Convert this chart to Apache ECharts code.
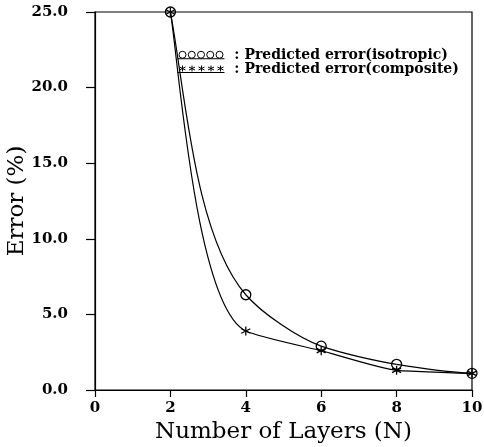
<!DOCTYPE html>
<html>
<head>
<meta charset="utf-8">
<script src="https://cdn.jsdelivr.net/npm/echarts@6/dist/echarts.min.js"></script>
<style>
  html, body { margin: 0; padding: 0; background: #fff; }
  #chart { width: 484px; height: 447px; }
</style>
</head>
<body>
<div id="chart"></div>
<script>
var layers = [2, 4, 6, 8, 10];
var isotropicError = [25.0, 6.3, 2.9, 1.7, 1.1];
var compositeError = [25.0, 3.9, 2.6, 1.3, 1.1];
var xTicks = [0, 2, 4, 6, 8, 10];
var yTicks = [0, 5, 10, 15, 20, 25];

var chartDom = document.getElementById("chart");
var chart = echarts.init(chartDom);

var font = "DejaVu Serif";
var circlesIcon = "path://M1.5,4a3.5,3.5 0 1,0 7,0a3.5,3.5 0 1,0 -7,0" +
  "M10.75,4a3.5,3.5 0 1,0 7,0a3.5,3.5 0 1,0 -7,0" +
  "M20,4a3.5,3.5 0 1,0 7,0a3.5,3.5 0 1,0 -7,0" +
  "M29.25,4a3.5,3.5 0 1,0 7,0a3.5,3.5 0 1,0 -7,0" +
  "M38.5,4a3.5,3.5 0 1,0 7,0a3.5,3.5 0 1,0 -7,0M0,8L47,8";
var starsIcon = "path://M5,1L5,7M2,2.5L8,5.5M2,5.5L8,2.5" +
  "M14.5,1L14.5,7M11.5,2.5L17.5,5.5M11.5,5.5L17.5,2.5" +
  "M24,1L24,7M21,2.5L27,5.5M21,5.5L27,2.5" +
  "M33.5,1L33.5,7M30.5,2.5L36.5,5.5M30.5,5.5L36.5,2.5" +
  "M43,1L43,7M40,2.5L46,5.5M40,5.5L46,2.5M0,8L47,8";
var asterisk = "path://M0,-5L0,5M-4.3,-2.5L4.3,2.5M-4.3,2.5L4.3,-2.5";

function pairs(xs, ys) {
  return xs.map(function (x, i) { return [x, ys[i]]; });
}

// monotone cubic (pchip) slopes, used for the tangent at each point
function slopes(xs, ys) {
  var n = xs.length, d = [], m = [];
  for (var i = 0; i < n - 1; i++) d.push((ys[i + 1] - ys[i]) / (xs[i + 1] - xs[i]));
  for (var k = 1; k < n - 1; k++) {
    if (d[k - 1] * d[k] <= 0) m[k] = 0;
    else m[k] = 2 / (1 / d[k - 1] + 1 / d[k]);
  }
  m[0] = (3 * d[0] - d[1]) / 2;
  if (m[0] * d[0] <= 0) m[0] = 0;
  m[n - 1] = (3 * d[n - 2] - d[n - 3]) / 2;
  if (m[n - 1] * d[n - 2] <= 0) m[n - 1] = 0;
  return m;
}

// bezier between neighbouring points, handles along the tangent in pixel space
function curve(xs, ys, tension) {
  var m = slopes(xs, ys);
  function dir(api, i) {
    var a = api.coord([xs[i], ys[i]]);
    var b = api.coord([xs[i] + 1, ys[i] + m[i]]);
    var dx = b[0] - a[0], dy = b[1] - a[1], len = Math.sqrt(dx * dx + dy * dy);
    return [dx / len, dy / len];
  }
  return function (params, api) {
    var i = params.dataIndex;
    if (i >= xs.length - 1) return null;
    var p0 = api.coord([xs[i], ys[i]]);
    var p1 = api.coord([xs[i + 1], ys[i + 1]]);
    var chord = Math.sqrt(Math.pow(p1[0] - p0[0], 2) + Math.pow(p1[1] - p0[1], 2));
    var t0 = dir(api, i), t1 = dir(api, i + 1), h = chord * tension;
    return {
      type: "bezierCurve",
      shape: {
        x1: p0[0], y1: p0[1],
        cpx1: p0[0] + t0[0] * h, cpy1: p0[1] + t0[1] * h,
        cpx2: p1[0] - t1[0] * h, cpy2: p1[1] - t1[1] * h,
        x2: p1[0], y2: p1[1]
      },
      style: { fill: null, stroke: "#000", lineWidth: 1.2 }
    };
  };
}

var option = {
  backgroundColor: "#fff",
  animation: false,
  grid: {
    left: 95, right: 12, top: 12, bottom: 57,
    outerBoundsMode: "none",
    show: true, borderColor: "#000", borderWidth: 1.2
  },
  legend: {
    left: 172, top: 43, orient: "vertical", itemGap: 0,
    itemWidth: 47, itemHeight: 8, symbolKeepAspect: true,
    formatter: " : {name}",
    textStyle: { fontFamily: font, fontWeight: "bold", fontSize: 14, color: "#000" },
    data: [
      { name: "Predicted error(isotropic)", icon: circlesIcon,
        itemStyle: { color: "rgba(0,0,0,0)", borderColor: "#000", borderWidth: 1 } },
      { name: "Predicted error(composite)", icon: starsIcon,
        itemStyle: { color: "rgba(0,0,0,0)", borderColor: "#000", borderWidth: 1 } }
    ]
  },
  xAxis: {
    type: "value", min: 0, max: 10, interval: 2,
    name: "Number of Layers (N)", nameLocation: "middle", nameGap: 31,
    nameMoveOverlap: false,
    nameTextStyle: { fontFamily: font, fontSize: 23, color: "#000", verticalAlign: "top" },
    axisLine: { lineStyle: { color: "#000", width: 1.2 } },
    axisTick: { inside: false, length: 7, lineStyle: { color: "#000", width: 1.2 } },
    axisLabel: { fontFamily: font, fontWeight: "bold", fontSize: 15, color: "#000", margin: 11 },
    splitLine: { show: false }
  },
  yAxis: {
    type: "value", min: 0, max: 25, interval: 5,
    name: "Error (%)", nameLocation: "middle", nameGap: 66, nameRotate: 90,
    nameMoveOverlap: false,
    nameTextStyle: { fontFamily: font, fontSize: 23, color: "#000", verticalAlign: "bottom" },
    axisLine: { show: true, lineStyle: { color: "#000", width: 1.2 } },
    axisTick: { show: true, inside: false, length: 9, lineStyle: { color: "#000", width: 1.2 } },
    axisLabel: {
      fontFamily: font, fontWeight: "bold", fontSize: 15, color: "#000", margin: 27,
      formatter: function (v) { return v.toFixed(1); }
    },
    splitLine: { show: false }
  },
  series: [
    {
      name: "Predicted error(isotropic)",
      type: "custom",
      data: pairs(layers, isotropicError),
      encode: { x: 0, y: 1 },
      renderItem: curve(layers, isotropicError, 0.27)
    },
    {
      name: "Predicted error(composite)",
      type: "custom",
      data: pairs(layers, compositeError),
      encode: { x: 0, y: 1 },
      renderItem: curve(layers, compositeError, 0.17)
    },
    {
      name: "Predicted error(isotropic)",
      type: "scatter",
      data: pairs(layers, isotropicError),
      symbol: "circle",
      symbolSize: 10,
      itemStyle: { color: "rgba(0,0,0,0)", borderColor: "#000", borderWidth: 1.3, opacity: 1 }
    },
    {
      name: "Predicted error(composite)",
      type: "scatter",
      data: pairs(layers, compositeError),
      symbol: asterisk,
      symbolSize: 9,
      itemStyle: { color: "#000", borderColor: "#000", borderWidth: 1.3, opacity: 1 }
    }
  ]
};

chart.setOption(option);
</script>
</body>
</html>
